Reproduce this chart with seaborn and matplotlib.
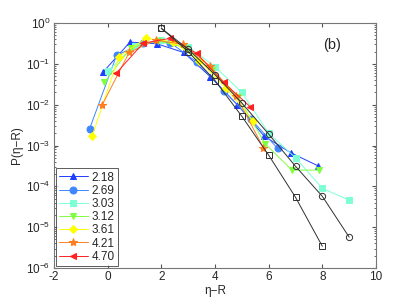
import numpy as np
import pandas as pd
import seaborn as sns
import matplotlib
matplotlib.use('Agg')
import matplotlib.pyplot as plt

# legend labels and series
labels = ['2.18', '2.69', '3.03', '3.12', '3.61', '4.21', '4.70']

x218 = [-0.17, 0.83, 1.83, 2.83, 3.83, 4.83, 5.83, 6.83, 7.83]
y218 = [0.063, 0.34, 0.31, 0.19, 0.048, 0.010, 0.0017, 6.6e-4, 3.2e-4]

x269 = [-0.67, 0.33, 1.33, 2.33, 3.33, 4.33, 5.33, 6.33]
y269 = [0.0026, 0.16, 0.33, 0.33, 0.11, 0.022, 0.0045, 8.5e-4]

x303 = [0, 1, 2, 3, 4, 5, 6, 7, 8, 9]
y303 = [0.065, 0.28, 0.38, 0.26, 0.085, 0.02, 0.002, 5e-4, 8.9e-5, 4.6e-5]

x312 = [-0.13, 0.87, 1.87, 2.87, 3.87, 4.87, 5.87, 6.87, 7.87]
y312 = [0.035, 0.25, 0.37, 0.25, 0.07, 0.015, 0.0011, 2.5e-4, 2.5e-4]

x361 = [-0.58, 0.42, 1.42, 2.42, 3.42, 4.42, 5.42]
y361 = [0.0017, 0.15, 0.42, 0.35, 0.12, 0.025, 0.004]

x421 = [-0.2, 0.8, 1.8, 2.8, 3.8, 4.8, 5.8]
y421 = [0.01, 0.19, 0.38, 0.3, 0.09, 0.016, 8.8e-4]

x470 = [0.32, 1.32, 2.32, 3.32, 4.32, 5.32]
y470 = [0.059, 0.32, 0.42, 0.18, 0.035, 0.0088]

# two black reference curves (not in legend)
xsq = [2, 3, 4, 5, 6, 7, 8]
ysq = [0.74, 0.2, 0.039, 0.0052, 5.8e-4, 5.4e-5, 3.4e-6]
xci = [2, 3, 4, 5, 6, 7, 8, 9]
yci = [0.74, 0.23, 0.054, 0.011, 0.0019, 3.1e-4, 5.7e-5, 5.7e-6]

xs = [x218, x269, x303, x312, x361, x421, x470]
ys = [y218, y269, y303, y312, y361, y421, y470]
colors = ['#1f3fff', '#3f86ff', '#7fffd4', '#80ff40', '#ffff00', '#ff7f20', '#ff2020']
markers = ['^', 'o', 's', 'v', 'D', '*', '<']
msizes = [5, 5, 4, 5, 4, 6, 5]

sns.set_style('ticks')
plt.rcParams['font.family'] = ['Liberation Sans', 'DejaVu Sans']
plt.rcParams['mathtext.fontset'] = 'custom'
plt.rcParams['mathtext.rm'] = 'Liberation Sans'
plt.rcParams['mathtext.it'] = 'Liberation Sans:italic'
fig = plt.figure(figsize=(4.15, 3.04), dpi=100)
ax = fig.add_axes([54/415, 1 - 268/304, (376-54)/415, (268-23)/304])

for xv, yv, c, m, ms, lab in zip(xs, ys, colors, markers, msizes, labels):
    df = pd.DataFrame({'x': xv, 'y': yv})
    sns.lineplot(data=df, x='x', y='y', ax=ax, color=c, marker=m, markersize=ms,
                 markeredgecolor=c, linewidth=0.7, label=lab)

for xv, yv, m in [(xsq, ysq, 's'), (xci, yci, 'o')]:
    df = pd.DataFrame({'x': xv, 'y': yv})
    sns.lineplot(data=df, x='x', y='y', ax=ax, color='#303030', marker=m, markersize=4.5,
                 markerfacecolor='none', markeredgecolor='#303030', markeredgewidth=0.7,
                 linewidth=0.7, legend=False)

ax.set_yscale('log')
ax.set_xlim(-2, 10)
ax.set_ylim(1e-6, 1)
ax.set_xticks([-2, 0, 2, 4, 6, 8, 10])
ax.set_xticklabels(['-2', '0', '2', '4', '6', '8', '10'])
ax.set_xlabel('η−R', fontsize=8.5, labelpad=1)
ax.set_ylabel('P(η−R)', fontsize=8.5, labelpad=2)
ax.tick_params(which='both', direction='in', top=True, right=True, labelsize=8.5,
               color='#555555', pad=2.5)
ax.tick_params(which='major', length=3)
ax.tick_params(which='minor', length=1.5)
for s in ax.spines.values():
    s.set_color('#777777')
    s.set_linewidth(0.8)

ax.text(8.35, 10**-0.55, '(b)', fontsize=10.5, ha='center', va='center')

leg = ax.legend(loc='lower left', fontsize=8.5, frameon=True, fancybox=False,
                borderpad=0.3, labelspacing=0.1, handlelength=2.4,
                handletextpad=0.3, borderaxespad=0.15, edgecolor='#333333')
leg.get_frame().set_linewidth(0.7)

fig.savefig('out.png', dpi=100)
